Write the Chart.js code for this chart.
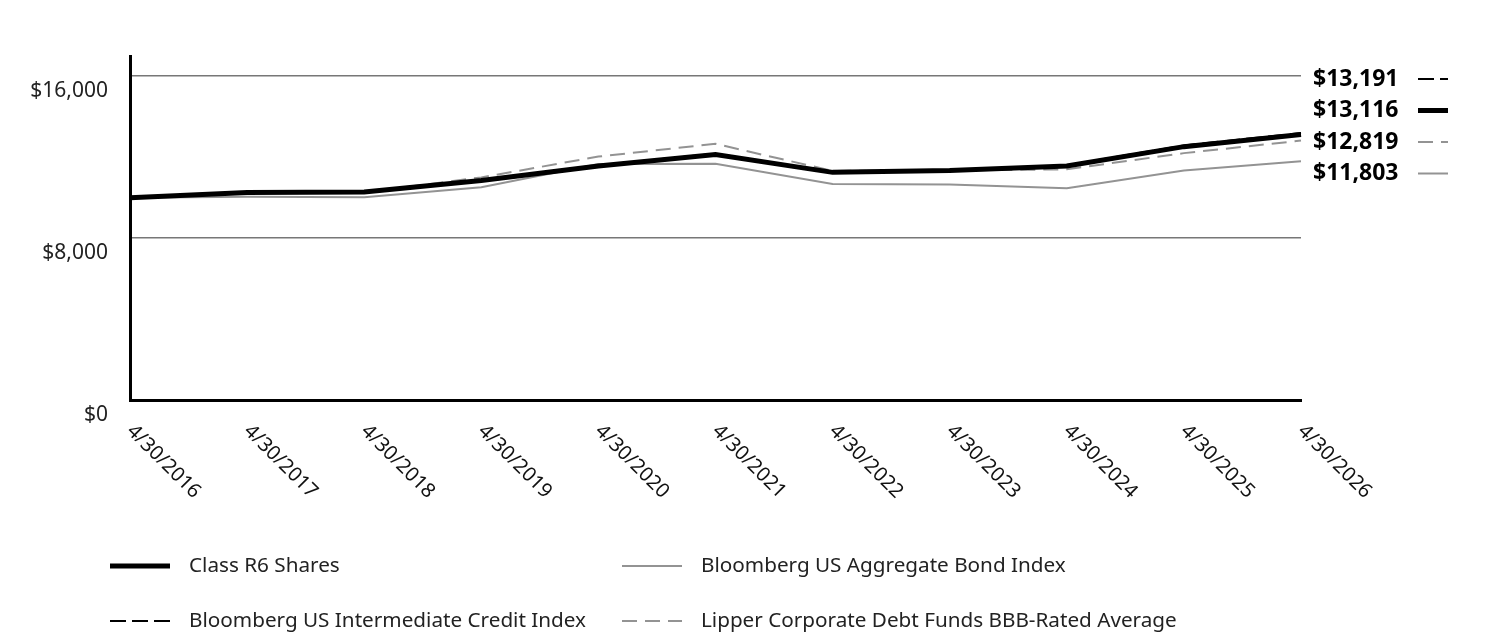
<!DOCTYPE html>
<html>
<head>
<meta charset="utf-8">
<script src="https://cdn.jsdelivr.net/npm/chart.js@4"></script>
<style>
  html, body { margin: 0; padding: 0; background: #fff; }
  #wrap { width: 1512px; height: 636px; position: relative; }
</style>
</head>
<body>
<div id="wrap"><canvas id="growthChart" width="1512" height="636"></canvas></div>
<script>
// Data
const periods = ['4/30/2016', '4/30/2017', '4/30/2018', '4/30/2019', '4/30/2020', '4/30/2021',
                 '4/30/2022', '4/30/2023', '4/30/2024', '4/30/2025', '4/30/2026'];
const classR6 = [10000, 10250, 10280, 10850, 11560, 12130, 11250, 11340, 11560, 12520, 13116];
const intermediateCredit = [10000, 10240, 10270, 10880, 11600, 12170, 11240, 11350, 11600, 12580, 13191];
const aggregateBond = [10000, 10050, 10020, 10510, 11660, 11670, 10680, 10645, 10470, 11340, 11803];
const lipperBBB = [10000, 10250, 10260, 11000, 12030, 12660, 11320, 11340, 11400, 12200, 12819];
const yTicks = [0, 8000, 16000];

const seriesNames = ['Class R6 Shares', 'Bloomberg US Intermediate Credit Index',
                     'Bloomberg US Aggregate Bond Index', 'Lipper Corporate Debt Funds BBB-Rated Average'];

const FONT = '"Noto Sans", "Open Sans", sans-serif';
const GRAY = '#939393';

function fmtMoney(v) {
  return '$' + v.toLocaleString('en-US');
}

// draws rotated x labels, end values and the legend
const decorations = {
  id: 'decorations',
  afterDraw(chart) {
    const ctx = chart.ctx;
    const xs = chart.scales.x;
    ctx.save();

    // x labels, rotated 45deg down to the right
    ctx.fillStyle = '#111';
    ctx.font = '20px ' + FONT;
    ctx.textAlign = 'left';
    ctx.textBaseline = 'middle';
    periods.forEach(function(p, i) {
      const x = xs.getPixelForValue(i);
      ctx.save();
      ctx.translate(x, 428);
      ctx.rotate(Math.PI / 4);
      ctx.fillText(p, 0, 0);
      ctx.restore();
    });

    // end values, stacked on the right
    const ends = [
      { v: intermediateCredit[intermediateCredit.length - 1], ds: 1 },
      { v: classR6[classR6.length - 1], ds: 0 },
      { v: lipperBBB[lipperBBB.length - 1], ds: 3 },
      { v: aggregateBond[aggregateBond.length - 1], ds: 2 }
    ];
    ctx.font = 'bold 23px ' + FONT;
    ctx.textBaseline = 'middle';
    ends.forEach(function(e, i) {
      const y = 79 + i * 31.5;
      ctx.fillStyle = '#000';
      ctx.textAlign = 'left';
      ctx.fillText(fmtMoney(e.v), 1313, y);
      const ds = chart.data.datasets[e.ds];
      ctx.strokeStyle = ds.borderColor;
      ctx.lineWidth = ds.borderWidth;
      ctx.setLineDash(ds.borderDash || []);
      ctx.beginPath();
      ctx.moveTo(1418, y);
      ctx.lineTo(1448, y);
      ctx.stroke();
    });

    // legend
    const legendPos = [
      { x: 110, y: 566 }, { x: 110, y: 621 },
      { x: 622, y: 566 }, { x: 622, y: 621 }
    ];
    ctx.font = '20.7px ' + FONT;
    chart.data.datasets.forEach(function(ds, i) {
      const pos = legendPos[i];
      ctx.strokeStyle = ds.borderColor;
      ctx.lineWidth = ds.borderWidth;
      ctx.setLineDash(ds.borderDash || []);
      ctx.beginPath();
      ctx.moveTo(pos.x, pos.y);
      ctx.lineTo(pos.x + 60, pos.y);
      ctx.stroke();
      ctx.setLineDash([]);
      ctx.fillStyle = '#222';
      ctx.textAlign = 'left';
      ctx.fillText(ds.label, pos.x + 79, pos.y);
    });
    ctx.restore();
  }
};

const ctx = document.getElementById('growthChart').getContext('2d');
const growthChart = new Chart(ctx, {
  type: 'line',
  data: {
    labels: periods,
    datasets: [
      { label: seriesNames[0], data: classR6, borderColor: '#000', borderWidth: 5 },
      { label: seriesNames[1], data: intermediateCredit, borderColor: '#000', borderWidth: 2, borderDash: [16, 6] },
      { label: seriesNames[2], data: aggregateBond, borderColor: GRAY, borderWidth: 2 },
      { label: seriesNames[3], data: lipperBBB, borderColor: GRAY, borderWidth: 2, borderDash: [15, 8] }
    ]
  },
  options: {
    responsive: false,
    animation: false,
    devicePixelRatio: 1,
    elements: {
      point: { radius: 0 },
      line: { tension: 0, borderCapStyle: 'butt' }
    },
    layout: { padding: { top: 56, right: 211, left: 0, bottom: 0 } },
    plugins: {
      legend: { display: false },
      tooltip: { enabled: false }
    },
    scales: {
      x: {
        offset: false,
        grid: { display: false },
        border: { color: '#000', width: 3 },
        ticks: { display: false },
        afterFit: function(s) { s.height = 236; }
      },
      y: {
        min: 0,
        max: 17000,
        afterBuildTicks: function(s) { s.ticks = yTicks.map(function(v) { return { value: v }; }); },
        afterFit: function(s) { s.width = 130; },
        grid: { color: '#777', lineWidth: 1.5, drawTicks: false },
        border: { color: '#000', width: 3 },
        ticks: {
          padding: 22,
          labelOffset: 15,
          color: '#222',
          font: { family: FONT, size: 21 },
          callback: function(v) { return fmtMoney(v); }
        }
      }
    }
  },
  plugins: [decorations]
});
</script>
</body>
</html>
